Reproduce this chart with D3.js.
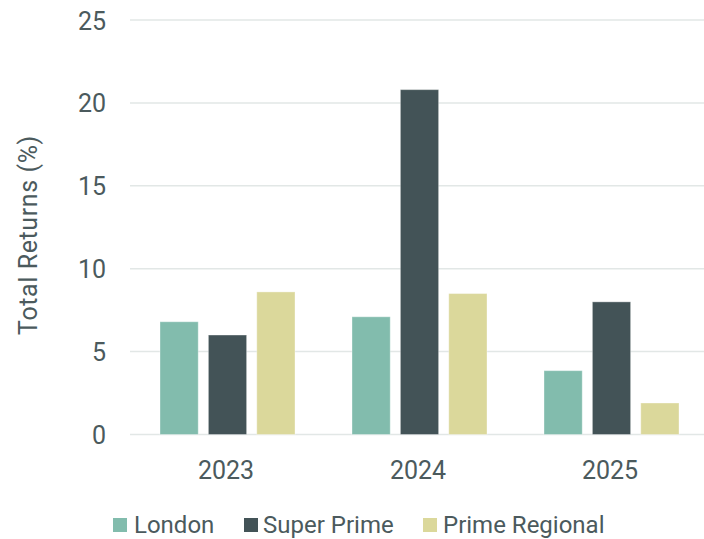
<!DOCTYPE html>
<html><head><meta charset="utf-8">
<script src="https://cdn.jsdelivr.net/npm/d3@7"></script>
<style>body{margin:0;background:#fff}svg{display:block}text{font-family:Roboto,"Noto Sans",sans-serif;fill:#4b5a5d}</style>
</head><body>
<script>
const years = ["2023","2024","2025"];
const seriesNames = ["London","Super Prime","Prime Regional"];
const london = [6.8, 7.1, 3.85];
const superPrime = [6.0, 20.8, 8.0];
const primeRegional = [8.6, 8.5, 1.9];
const yTicks = [0,5,10,15,20,25];
const colors = ["#82bcad","#435357","#dbd89b"];
const seriesValues = [london, superPrime, primeRegional];

const W=704,H=539;
const svg=d3.select("body").append("svg").attr("width",W).attr("height",H);
const m={l:130};
const x=d3.scaleBand().domain(years).range([m.l,W+2]).paddingInner(0).paddingOuter(0);
const y=d3.scaleLinear().domain([0,25]).range([434.5,20]);
const xs=d3.scaleBand().domain(seriesNames).range([30,30+135]).paddingInner(0.21);

const g=svg.append("g");
g.selectAll("line.grid").data(yTicks).join("line")
 .attr("x1",m.l).attr("x2",W).attr("y1",d=>y(d)).attr("y2",d=>y(d))
 .attr("stroke","#e2e7e6").attr("stroke-width",1.5);

const yAxis=d3.axisLeft(y).tickValues(yTicks).tickSize(0).tickPadding(0);
const ya=svg.append("g").attr("transform","translate(106,0)").call(yAxis);
ya.select(".domain").remove();
ya.selectAll("text").style("font-size","25px").attr("fill","#4b5a5d").attr("dy","0.36em");

seriesNames.forEach((s,i)=>{
  svg.append("g").selectAll("rect").data(years).join("rect")
   .attr("x",d=>x(d)+xs(s)).attr("width",xs.bandwidth())
   .attr("y",(d,j)=>y(seriesValues[i][j])).attr("height",(d,j)=>y(0)-y(seriesValues[i][j]))
   .attr("fill",colors[i]).attr("stroke","rgba(255,255,255,0.35)").attr("stroke-width",1);
});

const xAxis=d3.axisBottom(x).tickSize(0).tickPadding(0);
const xa=svg.append("g").attr("transform","translate(0,479)").call(xAxis);
xa.select(".domain").remove();
xa.selectAll("text").style("font-size","25px").attr("fill","#4b5a5d").attr("dy","0");

svg.append("text").attr("transform","translate(37,235) rotate(-90)")
 .attr("text-anchor","middle").style("font-size","25px").style("letter-spacing","0.6px").text("Total Returns (%)");

const legX=[113,244,423];
const legT=[134,263,443];
const lg=svg.append("g");
seriesNames.forEach((s,i)=>{
  lg.append("rect").attr("x",legX[i]).attr("y",518).attr("width",14).attr("height",14).attr("fill",colors[i]);
  lg.append("text").attr("x",legT[i]).attr("y",533).style("font-size","24px").text(s);
});
</script>
</body></html>
